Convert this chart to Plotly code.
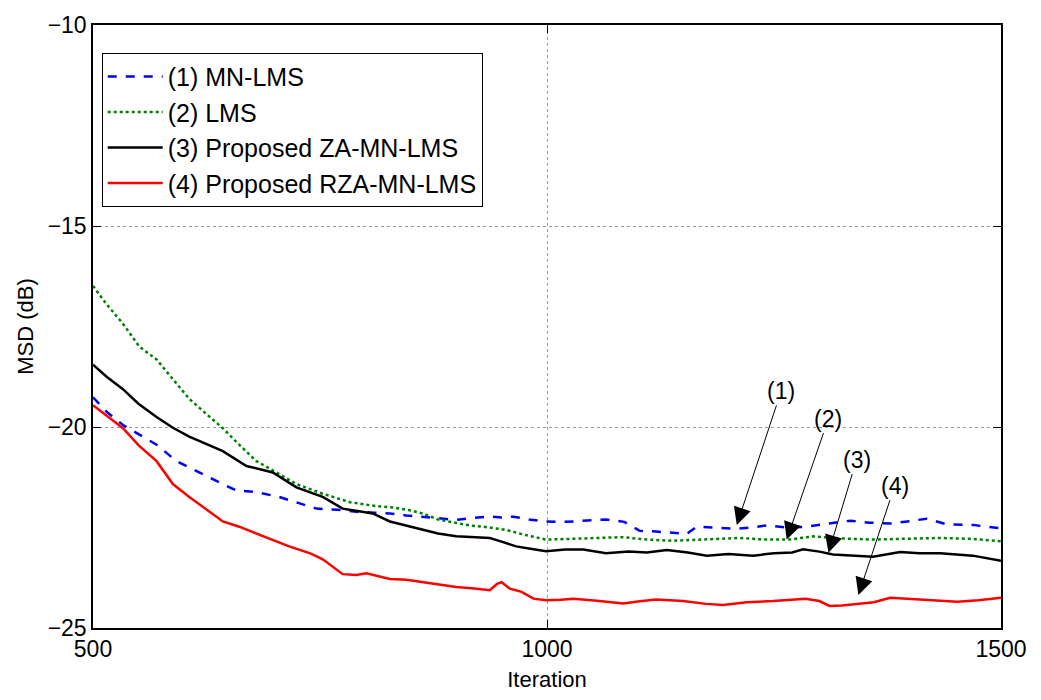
import plotly.graph_objects as go

# ---- data (MSD in dB vs iteration) ----
x_mn = [500, 515, 533, 550, 570, 592, 606, 625, 643, 658, 680, 705, 725, 746, 770, 790, 810, 827, 845, 863, 880, 900, 920, 937, 950, 963, 980, 999,
        1020, 1040, 1065, 1085, 1102, 1120, 1140, 1154, 1165, 1185, 1209, 1225, 1242, 1265, 1286, 1310, 1334, 1355, 1378, 1400, 1418, 1440, 1470, 1500]
y_mn = [-19.26, -19.62, -19.95, -20.18, -20.44, -20.85, -21.01, -21.22, -21.42, -21.58, -21.62, -21.74, -21.88, -22.03, -22.06, -22.11, -22.13, -22.15, -22.20, -22.23, -22.27, -22.31, -22.26, -22.23, -22.25, -22.23, -22.30, -22.35,
        -22.36, -22.34, -22.30, -22.36, -22.58, -22.60, -22.64, -22.66, -22.48, -22.50, -22.53, -22.50, -22.45, -22.50, -22.48, -22.40, -22.33, -22.38, -22.40, -22.34, -22.28, -22.42, -22.44, -22.52]

x_lms = [500, 515, 533, 551, 570, 588, 606, 625, 643, 661, 680, 702, 724, 753, 783, 812, 830, 849, 863, 880, 900, 915, 930, 955, 975, 999,
         1030, 1060, 1083, 1110, 1139, 1170, 1212, 1240, 1267, 1293, 1320, 1359, 1395, 1433, 1465, 1500]
y_lms = [-16.49, -16.95, -17.43, -18.00, -18.32, -18.81, -19.30, -19.68, -20.03, -20.44, -20.85, -21.13, -21.42, -21.66, -21.87, -21.97, -22.00, -22.07, -22.15, -22.30, -22.39, -22.45, -22.48, -22.56, -22.68, -22.80,
         -22.78, -22.76, -22.74, -22.80, -22.83, -22.80, -22.76, -22.80, -22.80, -22.72, -22.77, -22.80, -22.78, -22.76, -22.78, -22.84]

x_za = [500, 515, 533, 550, 570, 588, 606, 625, 643, 669, 698, 724, 753, 775, 790, 808, 827, 845, 863, 880, 900, 920, 937, 950, 966, 980, 999,
        1020, 1040, 1065, 1090, 1110, 1132, 1155, 1176, 1200, 1227, 1250, 1270, 1282, 1300, 1315, 1340, 1359, 1389, 1410, 1433, 1469, 1500]
y_za = [-18.45, -18.75, -19.06, -19.42, -19.75, -20.02, -20.24, -20.42, -20.60, -20.97, -21.13, -21.50, -21.74, -22.03, -22.08, -22.15, -22.35, -22.45, -22.56, -22.65, -22.72, -22.74, -22.76, -22.85, -22.97, -23.02, -23.09,
        -23.05, -23.05, -23.14, -23.10, -23.12, -23.06, -23.12, -23.20, -23.16, -23.20, -23.14, -23.12, -23.04, -23.10, -23.17, -23.20, -23.23, -23.11, -23.14, -23.14, -23.20, -23.33]

x_rza = [500, 515, 533, 550, 570, 588, 606, 625, 643, 661, 687, 716, 740, 753, 775, 790, 801, 815, 827, 845, 863, 880, 900, 920, 937, 945, 950, 959, 972, 985, 999,
         1015, 1029, 1055, 1084, 1100, 1120, 1150, 1175, 1194, 1220, 1249, 1285, 1300, 1311, 1325, 1341, 1360, 1378, 1400, 1415, 1435, 1452, 1475, 1500]
y_rza = [-19.46, -19.72, -20.03, -20.45, -20.85, -21.42, -21.74, -22.05, -22.35, -22.48, -22.72, -22.97, -23.15, -23.29, -23.66, -23.68, -23.64, -23.72, -23.78, -23.80, -23.86, -23.92, -23.98, -24.02, -24.06, -23.90, -23.86, -24.02, -24.10, -24.27, -24.31,
         -24.30, -24.27, -24.32, -24.39, -24.34, -24.29, -24.33, -24.40, -24.43, -24.36, -24.33, -24.27, -24.33, -24.45, -24.44, -24.41, -24.36, -24.25, -24.28, -24.31, -24.32, -24.35, -24.31, -24.25]

names = ["(1) MN-LMS", "(2) LMS", "(3) Proposed ZA-MN-LMS", "(4) Proposed RZA-MN-LMS"]

# annotation: label, arrow head (x, y), text centre (x, y)
ann_labels = ["(1)", "(2)", "(3)", "(4)"]
ann_head_x = [1209, 1264, 1310, 1343]
ann_head_y = [-22.44, -22.80, -23.13, -24.18]
ann_text_x = [1258, 1310, 1341, 1383]
ann_text_y = [-19.10, -19.79, -20.81, -21.46]

FONT = "Liberation Sans, Arial, sans-serif"

fig = go.Figure()
styles = [
    dict(color="#0000ff", dash="dash"),
    dict(color="#008000", dash="dot"),
    dict(color="#000000", dash="solid"),
    dict(color="#ff0000", dash="solid"),
]
for xs, ys, nm, st, grp in zip([x_mn, x_lms, x_za, x_rza], [y_mn, y_lms, y_za, y_rza], names, styles, ["a", "b", "c", "d"]):
    fig.add_trace(go.Scatter(x=xs, y=ys, mode="lines", name=nm, legendgroup=grp,
                             line=dict(color=st["color"], dash=st["dash"], width=2.5)))

for lab, hx, hy, tx, ty in zip(ann_labels, ann_head_x, ann_head_y, ann_text_x, ann_text_y):
    fig.add_annotation(x=hx, y=hy, ax=tx, ay=ty, xref="x", yref="y", axref="x", ayref="y",
                       text=lab, showarrow=True, arrowhead=2, arrowsize=3.5, arrowwidth=1,
                       arrowcolor="black", font=dict(family=FONT, size=23, color="black"))

axis_common = dict(showline=True, linecolor="black", linewidth=1.5, mirror="ticks",
                   ticks="inside", ticklen=8, tickcolor="black",
                   showgrid=True, gridcolor="#9a9a9a", griddash="dot", gridwidth=1,
                   zeroline=False, tickfont=dict(family=FONT, size=23, color="black"),
                   title_font=dict(family=FONT, size=22, color="black"))

fig.update_xaxes(range=[500, 1500], tickvals=[500, 1000, 1500], title_text="Iteration",
                 title_standoff=10, **axis_common)
fig.update_yaxes(range=[-25, -10], tickvals=[-25, -20, -15, -10], title_text="MSD (dB)",
                 title_standoff=8, **axis_common)

fig.update_layout(
    width=1041, height=700,
    margin=dict(l=93, r=40, t=16, b=70),
    plot_bgcolor="white", paper_bgcolor="white",
    font=dict(family=FONT, size=22, color="black"),
    legend=dict(x=0.0096, y=0.954, xanchor="left", yanchor="top",
                bgcolor="white", bordercolor="black", borderwidth=1,
                font=dict(family=FONT, size=25, color="black"),
                traceorder="grouped", tracegroupgap=0, itemwidth=55),
    showlegend=True,
)

fig.write_html("out.html")
